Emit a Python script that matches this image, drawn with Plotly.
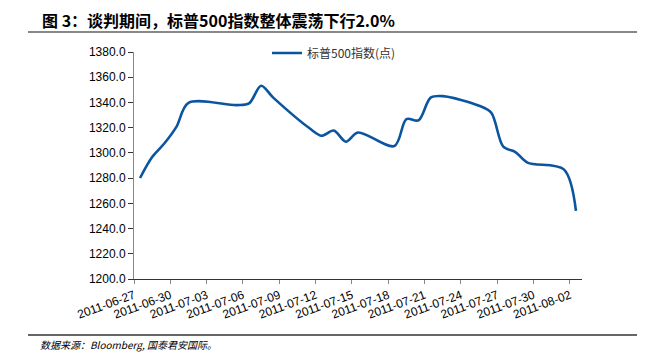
import plotly.graph_objects as go
import pandas as pd

dates = ["2011-06-27", "2011-06-28", "2011-06-29", "2011-06-30", "2011-07-01",
         "2011-07-05", "2011-07-06", "2011-07-07", "2011-07-08", "2011-07-11",
         "2011-07-12", "2011-07-13", "2011-07-14", "2011-07-15", "2011-07-18",
         "2011-07-19", "2011-07-20", "2011-07-21", "2011-07-22", "2011-07-25",
         "2011-07-26", "2011-07-27", "2011-07-28", "2011-07-29", "2011-08-01",
         "2011-08-02"]
values = [1280.10, 1296.67, 1307.41, 1320.64, 1339.67,
          1337.88, 1339.22, 1353.22, 1343.80, 1319.49,
          1313.64, 1317.72, 1308.87, 1316.14, 1305.44,
          1326.73, 1325.84, 1343.80, 1345.02, 1337.43,
          1331.94, 1304.89, 1300.67, 1292.28, 1286.94,
          1254.05]
tick_labels = ["2011-06-27", "2011-06-30", "2011-07-03", "2011-07-06", "2011-07-09",
               "2011-07-12", "2011-07-15", "2011-07-18", "2011-07-21", "2011-07-24",
               "2011-07-27", "2011-07-30", "2011-08-02"]
y_ticks = [1200, 1220, 1240, 1260, 1280, 1300, 1320, 1340, 1360, 1380]
series_name = "标普500指数(点)"
title = "图 3：谈判期间，标普500指数整体震荡下行2.0%"
source = "数据来源：Bloomberg, 国泰君安国际。"

# each day occupies one slot; points sit at the slot centre
x_pts = pd.to_datetime(dates) + pd.Timedelta(hours=12)
x_ticks = pd.to_datetime(tick_labels)
x_end = pd.to_datetime(tick_labels[-1]) + pd.Timedelta(days=1)

# page body has an 8px margin, so the figure is drawn at (8, 8)
W, H = 637, 355
L, T, R, B = 126, 44, 574, 271
PW, PH = R - L, B - T

def px(x):
    return (x - L) / PW

def py(y):
    return (B - y) / PH

fig = go.Figure()
fig.add_trace(go.Scatter(
    x=x_pts, y=values, mode="lines", name=series_name,
    line=dict(color="#0B55A0", width=2.6, shape="spline", smoothing=0.9),
))

fig.update_layout(
    width=W, height=H,
    margin=dict(l=L, r=W - R, t=T, b=H - B, autoexpand=False),
    paper_bgcolor="white", plot_bgcolor="white",
    font=dict(family="Liberation Sans", color="#000000", size=12),
    showlegend=True,
    legend=dict(orientation="h", x=px(259), xanchor="left", y=py(45), yanchor="middle",
                font=dict(family="Noto Sans CJK SC", size=12, color="#333333"),
                bgcolor="rgba(0,0,0,0)"),
    xaxis=dict(
        type="date",
        range=[x_ticks[0], x_end],
        tickvals=x_ticks, ticktext=tick_labels,
        tickangle=-20,
        showgrid=False, zeroline=False,
        showline=True, linecolor="#333333", linewidth=1,
        ticks="outside", ticklen=4, tickcolor="#888888",
        tickfont=dict(size=12),
    ),
    yaxis=dict(
        range=[1200, 1380],
        tickvals=y_ticks, ticktext=[f"{v:.1f}" for v in y_ticks],
        showgrid=False, zeroline=False,
        showline=True, linecolor="#888888", linewidth=1,
        ticks="outside", ticklen=5, tickcolor="#333333",
        tickfont=dict(size=12),
    ),
)

fig.add_annotation(text=f"<b>{title}</b>", xref="paper", yref="paper",
                   x=px(32), y=py(12), xanchor="left", yanchor="middle",
                   showarrow=False,
                   font=dict(family="Noto Sans CJK SC", size=16, color="#000000"))
fig.add_annotation(text=f"<i>{source}</i>", xref="paper", yref="paper",
                   x=px(30), y=py(336), xanchor="left", yanchor="middle",
                   showarrow=False,
                   font=dict(family="Noto Sans CJK SC", size=10, color="#000000"))

fig.add_shape(type="line", xref="paper", yref="paper",
              x0=px(20), x1=px(W), y0=py(24), y1=py(24),
              line=dict(color="#888888", width=2))
fig.add_shape(type="line", xref="paper", yref="paper",
              x0=px(20), x1=px(630), y0=py(327), y1=py(327),
              line=dict(color="#333333", width=1.5))

fig.write_html("out.html")
